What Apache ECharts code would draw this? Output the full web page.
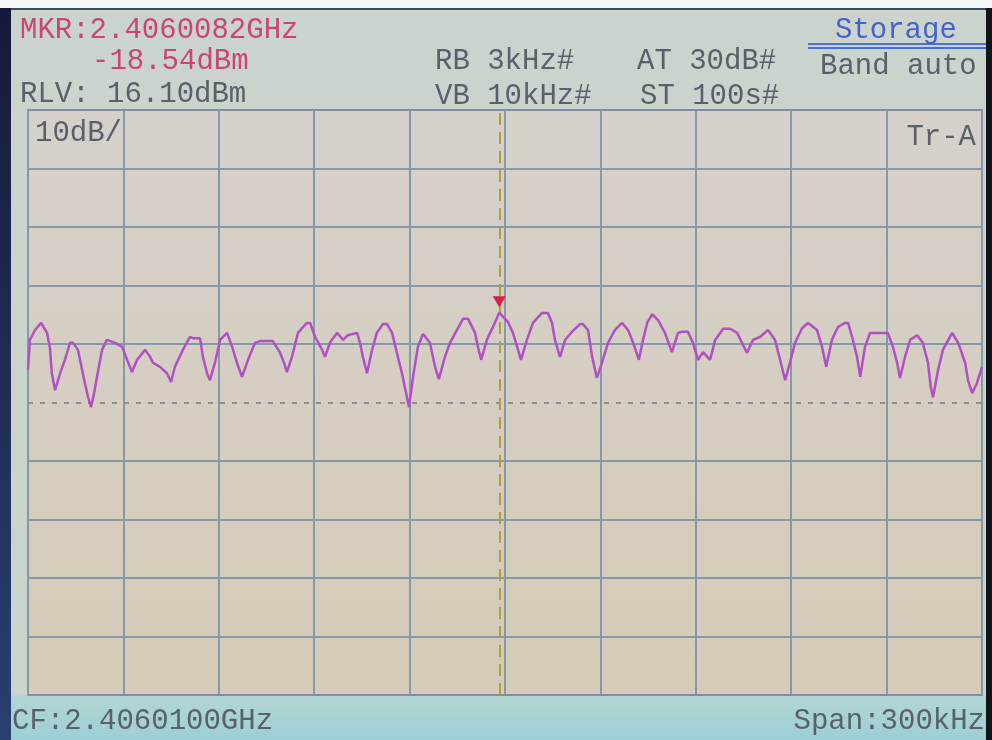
<!DOCTYPE html>
<html><head><meta charset="utf-8">
<script src="https://cdn.jsdelivr.net/npm/echarts/dist/echarts.min.js"></script>
<style>html,body{margin:0;padding:0;background:#fff}#c{width:992px;height:740px}</style>
</head><body><div id="c"></div>
<script>
// ---- data (frequency offset from CF in kHz, level in dBm) ----
const traceFreqKHz = [-150.0,-149.4,-147.8,-145.9,-144.0,-143.1,-142.5,-141.5,-139.9,-138.4,
-136.8,-135.8,-134.3,-133.0,-132.1,-131.1,-130.2,-129.2,-128.3,-126.7,
-125.2,-122.6,-120.4,-119.2,-117.3,-115.7,-113.2,-111.6,-110.7,-108.5,
-106.3,-105.0,-103.8,-101.3,-99.1,-98.1,-95.9,-95.0,-93.7,-92.8,
-91.2,-89.6,-87.4,-85.8,-84.3,-82.7,-80.8,-78.6,-77.0,-73.0,
-70.8,-69.5,-68.6,-67.0,-65.1,-62.3,-61.3,-59.7,-57.5,-56.6,
-55.0,-52.8,-50.9,-49.4,-46.5,-45.6,-44.7,-43.4,-41.8,-40.3,
-38.4,-37.1,-35.5,-34.0,-32.4,-31.1,-30.2,-28.9,-27.4,-25.8,
-23.6,-22.0,-20.8,-18.9,-17.3,-15.1,-13.2,-11.6,-9.4,-8.5,
-7.5,-5.7,-3.8,-1.8,0.9,2.5,4.1,5.0,6.9,8.8,
11.6,13.5,14.8,15.7,17.3,18.9,21.1,23.6,24.5,26.1,
27.4,28.9,30.5,32.4,34.6,36.8,38.7,40.3,42.1,43.4,
44.7,46.3,48.1,50.3,52.5,54.4,55.7,57.5,59.1,60.7,
62.3,64.5,66.1,68.6,70.8,73.0,74.5,76.1,78.0,80.2,
82.7,84.9,86.5,88.1,89.6,91.2,93.4,95.3,98.1,99.7,
101.0,102.8,104.7,106.9,107.9,109.4,110.7,111.7,113.2,114.8,
116.4,120.4,122.0,123.3,124.2,125.8,127.4,129.6,131.4,133.0,
133.9,134.6,136.2,137.7,140.6,142.5,144.7,145.6,146.9,148.4,
150.0];
const traceLevelDBm = [-28.3,-23.2,-21.5,-20.3,-22.0,-24.6,-28.9,-31.8,-28.9,-26.6,
-23.7,-23.7,-24.9,-28.3,-30.6,-33.0,-34.7,-32.3,-29.5,-24.9,
-23.2,-23.7,-24.4,-26.1,-28.7,-26.6,-24.9,-26.1,-27.1,-27.8,
-28.9,-30.4,-27.8,-24.9,-22.7,-22.9,-22.9,-26.1,-28.9,-30.1,
-27.1,-23.2,-22.0,-24.4,-27.1,-29.5,-26.6,-23.7,-23.4,-23.4,
-25.3,-27.1,-28.7,-26.1,-22.0,-20.3,-20.3,-22.7,-24.9,-26.1,
-23.6,-22.0,-23.2,-22.4,-22.0,-23.7,-26.1,-28.9,-24.9,-22.0,
-20.5,-20.5,-22.0,-25.4,-28.9,-32.3,-34.7,-29.5,-24.4,-22.2,
-23.7,-27.8,-29.9,-26.1,-23.7,-21.5,-19.6,-19.6,-22.0,-24.4,
-26.6,-23.2,-21.0,-18.54,-20.1,-22.0,-24.9,-26.6,-23.2,-20.3,
-18.6,-18.6,-20.3,-23.2,-26.1,-23.2,-21.8,-20.5,-20.5,-21.5,
-26.1,-29.7,-27.1,-23.7,-21.5,-20.3,-21.5,-23.7,-26.6,-23.2,
-20.3,-18.8,-19.8,-22.0,-25.3,-22.0,-21.8,-21.8,-23.7,-26.6,
-25.3,-26.6,-23.2,-21.3,-21.3,-22.0,-23.7,-25.4,-23.2,-22.7,
-21.5,-23.2,-26.6,-30.1,-27.1,-23.7,-21.2,-20.3,-21.5,-24.4,
-27.8,-23.2,-21.0,-20.3,-20.3,-23.2,-26.1,-29.5,-24.4,-22.0,
-22.0,-22.0,-24.4,-27.1,-29.7,-26.1,-23.2,-22.4,-23.7,-27.1,
-31.3,-33.0,-28.3,-24.9,-22.0,-23.7,-27.1,-30.1,-32.3,-30.6,
-27.8];
const refLevelDBm = 16.1;
const dbPerDiv = 10;
const gridLevelsDBm = [6.1, -3.9, -13.9, -23.9, -43.9, -53.9, -63.9, -73.9];
const displayLineDBm = -33.9;
const spanKHz = 300;
const freqDivKHz = 30;
const markerFreqKHz = -1.8;
const markerLevelDBm = -18.54;
const headerTexts = {
  mkr: 'MKR:2.4060082GHz', mkrLvl: '-18.54dBm', rlv: 'RLV: 16.10dBm',
  rb: 'RB 3kHz#', vb: 'VB 10kHz#', at: 'AT 30dB#', st: 'ST 100s#',
  storage: 'Storage', band: 'Band auto', scale: '10dB/', trace: 'Tr-A',
  cf: 'CF:2.4060100GHz', span: 'Span:300kHz'
};

const FONT = '29px "Liberation Mono", "DejaVu Sans Mono", monospace';
const GRAY = '#58616b', RED = '#c9476f', BLUE = '#4464cc';
const txt = (s, x, y, fill, align) => ({ type: 'text', x: x, y: y, z: 100,
  style: { text: s, font: FONT, fill: fill, textAlign: align || 'left', textVerticalAlign: 'middle' } });

const chart = echarts.init(document.getElementById('c'), null, { renderer: 'canvas' });
const gridLineStyle = { color: '#8599aa', width: 2, type: 'solid' };
chart.setOption({
  animation: false,
  backgroundColor: '#cbd3cd',
  graphic: [
    { type: 'rect', z: -10, shape: { x: 0, y: 695, width: 992, height: 45 },
      style: { fill: new echarts.graphic.LinearGradient(0, 0, 0, 1, [{ offset: 0, color: '#b3d6d4' }, { offset: 1, color: '#9ccfd3' }]) } },
    { type: 'rect', z: 50, shape: { x: 0, y: 0, width: 992, height: 8 }, style: { fill: '#f7f7f7' } },
    { type: 'rect', z: 50, shape: { x: 0, y: 8, width: 992, height: 2 }, style: { fill: '#3a4a6a' } },
    { type: 'rect', z: 50, shape: { x: 0, y: 8, width: 11, height: 732 },
      style: { fill: new echarts.graphic.LinearGradient(0, 0, 0, 1, [{ offset: 0, color: '#151a3a' }, { offset: 1, color: '#2a3f70' }]) } },
    { type: 'rect', z: 50, shape: { x: 986, y: 8, width: 6, height: 732 }, style: { fill: '#111418' } },
    { type: 'line', z: 60, shape: { x1: 808, y1: 44, x2: 986, y2: 44 }, style: { stroke: '#4d70d4', lineWidth: 2 } },
    { type: 'line', z: 60, shape: { x1: 808, y1: 48, x2: 986, y2: 48 }, style: { stroke: '#4d70d4', lineWidth: 2 } },
    txt(headerTexts.mkr, 20, 30, RED),
    txt(headerTexts.mkrLvl, 92, 61, RED),
    txt(headerTexts.rlv, 20, 94, GRAY),
    txt(headerTexts.rb, 435, 61, GRAY),
    txt(headerTexts.vb, 435, 96, GRAY),
    txt(headerTexts.at, 637, 61, GRAY),
    txt(headerTexts.st, 640, 96, GRAY),
    txt(headerTexts.storage, 835, 30, BLUE),
    txt(headerTexts.band, 820, 66, GRAY),
    txt(headerTexts.scale, 35, 133, GRAY),
    txt(headerTexts.trace, 976, 137, GRAY, 'right'),
    txt(headerTexts.cf, 12, 721, GRAY),
    txt(headerTexts.span, 985, 721, GRAY, 'right')
  ],
  grid: { left: 28, top: 110, width: 954, height: 585, show: true,
    backgroundColor: new echarts.graphic.LinearGradient(0, 0, 0, 1, [{ offset: 0, color: '#d5d0cb' }, { offset: 1, color: '#d6cbb6' }]),
    borderColor: '#7f8f9e', borderWidth: 2 },
  xAxis: { type: 'value', min: -spanKHz / 2, max: spanKHz / 2, interval: freqDivKHz,
    axisLine: { show: false }, axisTick: { show: false }, axisLabel: { show: false },
    splitLine: { show: true, lineStyle: gridLineStyle } },
  yAxis: { type: 'value', min: refLevelDBm - 10 * dbPerDiv, max: refLevelDBm,
    axisLine: { show: false }, axisTick: { show: false }, axisLabel: { show: false },
    splitLine: { show: false } },
  series: [
    { type: 'line', name: 'grid', data: [], z: 1, silent: true,
      markLine: { silent: true, symbol: ['none', 'none'], label: { show: false }, animation: false,
        data: gridLevelsDBm.map(v => ({ yAxis: v, lineStyle: gridLineStyle }))
          .concat([{ yAxis: displayLineDBm, lineStyle: { color: '#8e8e8e', width: 2, type: [5, 7] } }])
          .concat([{ xAxis: markerFreqKHz, lineStyle: { color: '#ad9f3c', width: 2, type: [12, 7] } }]) } },
    { type: 'line', name: headerTexts.trace, z: 5, showSymbol: false, symbol: 'none',
      data: traceFreqKHz.map((f, i) => [f, traceLevelDBm[i]]),
      lineStyle: { color: '#b050c4', width: 2.5 },
      markPoint: { symbol: 'triangle', symbolRotate: 180, symbolSize: [13, 11], symbolOffset: [0, -11],
        label: { show: false }, itemStyle: { color: '#d8204a' },
        data: [{ coord: [markerFreqKHz, markerLevelDBm] }] } }
  ]
});
</script></body></html>
